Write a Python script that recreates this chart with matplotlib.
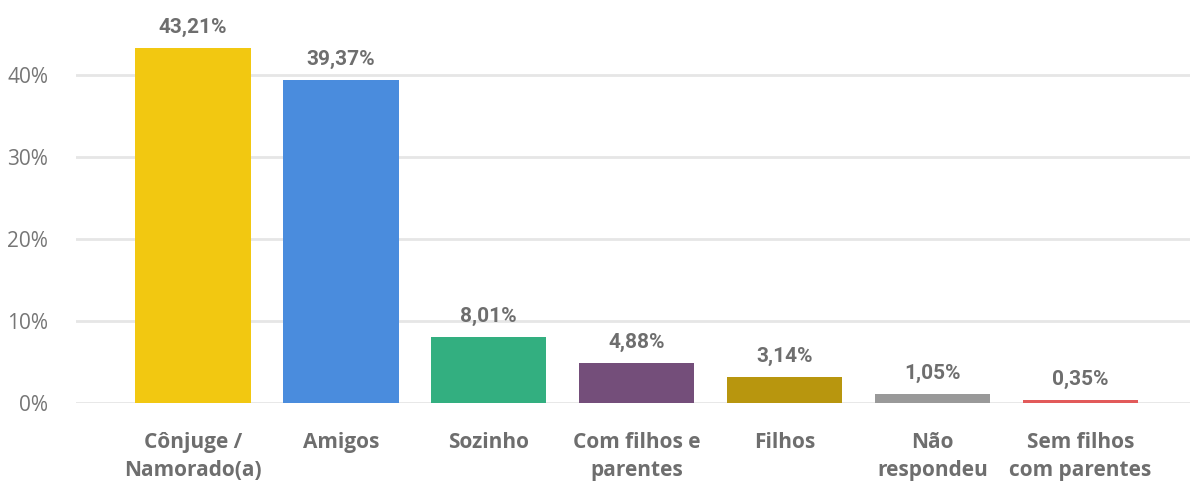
import matplotlib
matplotlib.use("Agg")
import matplotlib.pyplot as plt
from matplotlib.ticker import FuncFormatter

categories = ["Cônjuge /\nNamorado(a)", "Amigos", "Sozinho", "Com filhos e\nparentes",
              "Filhos", "Não\nrespondeu", "Sem filhos\ncom parentes"]
values = [43.21, 39.37, 8.01, 4.88, 3.14, 1.05, 0.35]
colors = ["#F2C811", "#4A8CDD", "#33AF80", "#744E7A", "#B8960E", "#999999", "#E25A5A"]
yticks = [0, 10, 20, 30, 40]

W, H = 1191, 483
fig = plt.figure(figsize=(W / 100, H / 100), dpi=100)
ax = fig.add_axes([76 / W, (H - 403) / H, (1190 - 76) / W, 403 / H])

x = list(range(len(categories)))
ax.bar(x, values, width=0.78, color=colors, zorder=3)
ax.set_xlim(-0.79, 6.74)
ax.set_ylim(0, 49.1)
ax.set_yticks(yticks)
ax.yaxis.set_major_formatter(FuncFormatter(lambda v, p: f"{int(v)}%"))
ax.grid(axis="y", color="#e6e6e6", linewidth=2, zorder=0)
ax.set_axisbelow(True)
for s in ax.spines.values():
    s.set_visible(False)
ax.tick_params(axis="y", length=0, pad=20, labelsize=15, labelcolor="#767676")
ax.tick_params(axis="x", length=0, pad=21)
ax.set_xticks(x)
ax.set_xticklabels(categories, fontsize=15, fontweight="bold", color="#6e6e6e",
                   family="Open Sans", linespacing=1.42)
for lab in ax.get_yticklabels():
    lab.set_family("Open Sans")

for xi, v in zip(x, values):
    ax.annotate(f"{v:.2f}%".replace(".", ","), (xi, v), xytext=(0, 8),
                textcoords="offset points", ha="center", va="bottom",
                fontsize=15, fontweight="bold", color="#6e6e6e", family="Roboto")

fig.savefig("out.png", dpi=100)
